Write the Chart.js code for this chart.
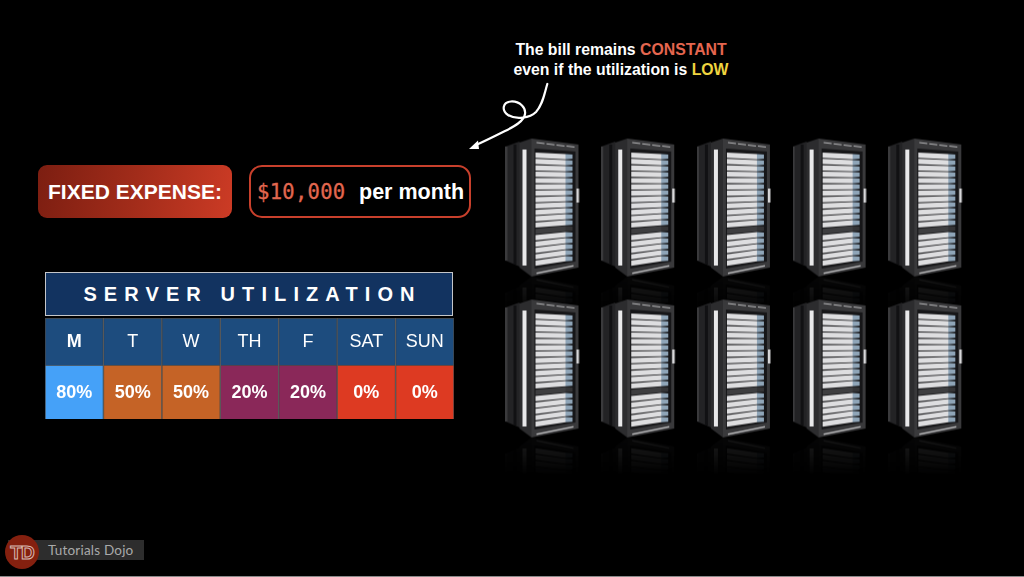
<!DOCTYPE html>
<html>
<head>
<meta charset="utf-8">
<title>Server utilization</title>
<script src="https://cdn.jsdelivr.net/npm/chart.js@4"></script>
<style>
  html, body { margin: 0; padding: 0; background: #000; }
  body { position: relative; width: 1024px; height: 577px; overflow: hidden; font-family: "Liberation Sans", Arial, sans-serif; color: #fff; }
  .abs { position: absolute; white-space: nowrap; }
  canvas { position: absolute; }
  #note { left: 471px; top: 40px; width: 300px; text-align: center; font-weight: bold; font-size: 15.8px; line-height: 20px; }
  #fixed { left: 38px; top: 165px; width: 194px; height: 53px; line-height: 53px; border-radius: 9px; text-align: center; font-weight: bold; font-size: 21px;
           background: linear-gradient(100deg, #7c1e11, #a22c1a 50%, #cc3b25); }
  #amount { left: 249px; top: 165px; width: 218px; height: 49px; line-height: 50px; border: 2px solid #c8402c; border-radius: 13px; }
  #amount b { position: absolute; left: 6px; font: normal 20.5px/50px "DejaVu Sans Mono", monospace; color: #e2674f; letter-spacing: .3px; -webkit-text-stroke: .3px #e2674f; }
  #amount span { position: absolute; left: 108px; font-weight: bold; font-size: 21.5px; }
  #title { left: 45px; top: 272px; width: 399px; height: 42px; padding-left: 7px; line-height: 43px; border: 1.5px solid #c4c6ca; background: #123360; text-align: center; font-weight: bold; font-size: 20px; letter-spacing: 7.1px; }
  #logoBar { left: 8px; top: 540px; width: 136px; height: 20px; background: #2d2d2d; }
  #logoDot { left: 5px; top: 535px; width: 34px; height: 34px; border-radius: 50%; background: #84200f; text-align: center; line-height: 35px; font-weight: bold; font-size: 19px; color: #84200f; -webkit-text-stroke: 1px #d8b9b2; letter-spacing: -1px; }
  #logoText { left: 48px; top: 542px; font-family: Lato, sans-serif; font-size: 13.5px; line-height: 16px; color: #a9a9a9; letter-spacing: .2px; }
  #edge { left: 0; top: 576px; width: 1024px; height: 1px; background: #8a8a8a; }
  #arrow { position: absolute; left: 0; top: 0; }
</style>
</head>
<body>
<div class="abs" id="note">The bill remains <span style="color:#e5664f">CONSTANT</span><br>even if the utilization is <span style="color:#efd43f">LOW</span></div>
<svg id="arrow" width="1024" height="577">
  <path d="M547.3 84 C544 95 543 104 536 112 C530 118 516 120 508 115 C501 110 503 102 511 101.5 C520 101 526 108 525 114 C524 121 515 126 505 131 C495 136 485 141 476 145" fill="none" stroke="#fff" stroke-width="2.2" stroke-linecap="round"/>
  <path d="M469 149 L478 140.5 L479 149 Z" fill="#fff"/>
</svg>
<div class="abs" id="fixed">FIXED EXPENSE:</div>
<div class="abs" id="amount"><b>$10,000</b><span>per month</span></div>
<div class="abs" id="title">SERVER UTILIZATION</div>
<canvas id="tableChart" style="left:45px;top:318px;width:409px;height:101px"></canvas>
<canvas id="rackChart" style="left:470px;top:120px;width:530px;height:380px"></canvas>
<div class="abs" id="logoBar"></div>
<div class="abs" id="logoDot">TD</div>
<div class="abs" id="logoText">Tutorials Dojo</div>
<div class="abs" id="edge"></div>

<script>
const days = ['M', 'T', 'W', 'TH', 'F', 'SAT', 'SUN'];
const utilization = [80, 50, 50, 20, 20, 0, 0];
const rackColumns = [1, 2, 3, 4, 5];
const rackRows = [1, 2];

const HEADER_BLUE = '#1d4c7e';
const LEVEL_COLORS = { 80: '#45a1f8', 50: '#c56326', 20: '#8a2859', 0: '#dd3a22' };
const CELL_LINE = 'rgba(255,255,255,0.28)';

// --- Table of days, one bar per cell ---
const rowSplit = 1, rowTop = 1.87;

const cellLabels = {
  id: 'cellLabels',
  afterDatasetsDraw(chart) {
    const { ctx } = chart;
    const yHead = chart.scales.y.getPixelForValue((rowSplit + rowTop) / 2);
    const yVal = chart.scales.y.getPixelForValue(rowSplit / 2);
    ctx.save();
    ctx.textAlign = 'center';
    ctx.textBaseline = 'middle';
    days.forEach((d, i) => {
      const x = chart.scales.x.getPixelForValue(i);
      ctx.fillStyle = '#fff';
      ctx.font = (i === 0 ? 'bold ' : '') + '18px "Liberation Sans"';
      ctx.fillText(d, x, yHead + 1);
      ctx.font = 'bold 18px "Liberation Sans"';
      ctx.fillText(utilization[i] + '%', x, yVal + 1);
    });
    ctx.restore();
  },
};

new Chart(document.getElementById('tableChart'), {
  type: 'bar',
  data: {
    labels: days,
    datasets: [
      { label: 'Day', data: days.map(() => [rowSplit, rowTop]), backgroundColor: HEADER_BLUE, borderColor: CELL_LINE, borderWidth: 1, barPercentage: 1, categoryPercentage: 1 },
      { label: 'Utilization', data: utilization.map(() => [0, rowSplit]), backgroundColor: utilization.map(v => LEVEL_COLORS[v]), borderColor: CELL_LINE, borderWidth: 1, barPercentage: 1, categoryPercentage: 1 },
    ],
  },
  options: {
    responsive: false, animation: false,
    plugins: { legend: { display: false }, tooltip: { enabled: false } },
    layout: { padding: 0 },
    scales: {
      x: { display: false, stacked: true },
      y: { display: false, min: 0, max: rowTop },
    },
  },
  plugins: [cellLabels],
});

// --- Rack picture used as the point style ---
function drawRack(c) {
  // side panels
  c.fillStyle = '#232325';
  c.beginPath(); c.moveTo(0, 8); c.lineTo(14, 3); c.lineTo(14, 128); c.lineTo(0, 122); c.closePath(); c.fill();
  c.fillStyle = '#3a3a3c';
  c.fillRect(0, 8, 2, 114);
  c.fillStyle = '#111113';
  c.fillRect(8, 6, 3, 120);
  c.fillStyle = '#2c2c2e';
  c.beginPath(); c.moveTo(14, 4); c.lineTo(26, 0); c.lineTo(26, 138); c.lineTo(14, 129); c.closePath(); c.fill();
  // bright strip beside the door
  c.fillStyle = '#e9e9ea';
  c.fillRect(17, 11, 4, 116);
  // door frame
  c.fillStyle = '#39393b';
  c.beginPath(); c.moveTo(26, 0); c.lineTo(73, 6); c.lineTo(73, 129); c.lineTo(26, 138); c.closePath(); c.fill();
  c.fillStyle = '#161618';
  c.beginPath(); c.moveTo(29, 10); c.lineTo(70, 13); c.lineTo(70, 123); c.lineTo(29, 130); c.closePath(); c.fill();
  // top vents and bottom bar
  c.fillStyle = '#b9b9bb';
  [[31, 3.5], [41, 4.7], [51, 5.9], [61, 7.1]].forEach(v => {
    c.beginPath(); c.moveTo(v[0], v[1]); c.lineTo(v[0] + 8, v[1] + 1); c.lineTo(v[0] + 8, v[1] + 2); c.lineTo(v[0], v[1] + 1); c.closePath(); c.fill();
  });
  c.beginPath(); c.moveTo(31, 134); c.lineTo(68, 126.5); c.lineTo(68, 128); c.lineTo(31, 135.5); c.closePath(); c.fill();
  // shelves
  const count = 18;
  for (let i = 0; i < count; i++) {
    const t = i / (count - 1);
    const yl = 14 + t * 108, yr = 16 + t * 102;
    const h = 5.2;
    const dark = i === 12;
    c.fillStyle = dark ? '#3e3e40' : '#dedee0';
    c.beginPath(); c.moveTo(30, yl); c.lineTo(60, yr - 0.4); c.lineTo(60, yr + h - 0.4); c.lineTo(30, yl + h); c.closePath(); c.fill();
    c.fillStyle = dark ? '#343436' : '#8fa5b8';
    c.beginPath(); c.moveTo(60, yr - 0.4); c.lineTo(67, yr); c.lineTo(67, yr + h - 1); c.lineTo(60, yr + h - 0.4); c.closePath(); c.fill();
  }
  // handle
  c.fillStyle = '#d8d8da';
  c.fillRect(71, 50, 2.5, 14);
}

function makeRackImage() {
  const W = 76, H = 138, REFLECT = 38;
  // Rack sits in the middle of the image, so it is centred on its point.
  const img = document.createElement('canvas');
  img.width = W;
  img.height = H + REFLECT * 2;
  const c = img.getContext('2d');

  const plain = document.createElement('canvas');
  plain.width = W; plain.height = H;
  const pc = plain.getContext('2d');
  pc.filter = 'blur(0.7px)';
  drawRack(pc);

  c.drawImage(plain, 0, REFLECT);

  // faint mirror image below the rack, fading out
  const mirror = document.createElement('canvas');
  mirror.width = W; mirror.height = REFLECT;
  const mc = mirror.getContext('2d');
  mc.translate(0, H);
  mc.scale(1, -1);
  mc.drawImage(plain, 0, 0);
  mc.setTransform(1, 0, 0, 1, 0, 0);
  mc.globalCompositeOperation = 'destination-in';
  const g = mc.createLinearGradient(0, 0, 0, REFLECT);
  g.addColorStop(0, 'rgba(0,0,0,0.12)');
  g.addColorStop(1, 'rgba(0,0,0,0)');
  mc.fillStyle = g;
  mc.fillRect(0, 0, W, REFLECT);
  c.drawImage(mirror, 0, REFLECT + H);
  return img;
}

const rackImage = makeRackImage();
const rackPoints = rackRows.flatMap(y => rackColumns.map(x => ({ x, y })));

new Chart(document.getElementById('rackChart'), {
  type: 'scatter',
  data: {
    datasets: [{ label: 'Servers', data: rackPoints, pointStyle: rackImage, showLine: false, clip: false }],
  },
  options: {
    responsive: false, animation: false,
    plugins: { legend: { display: false }, tooltip: { enabled: false } },
    layout: { padding: 0, autoPadding: false },
    scales: {
      x: { display: false, min: 0.232, max: 5.77 },
      y: { display: false, min: 0.4565, max: 2.8168, reverse: true },
    },
  },
});
</script>
</body>
</html>
